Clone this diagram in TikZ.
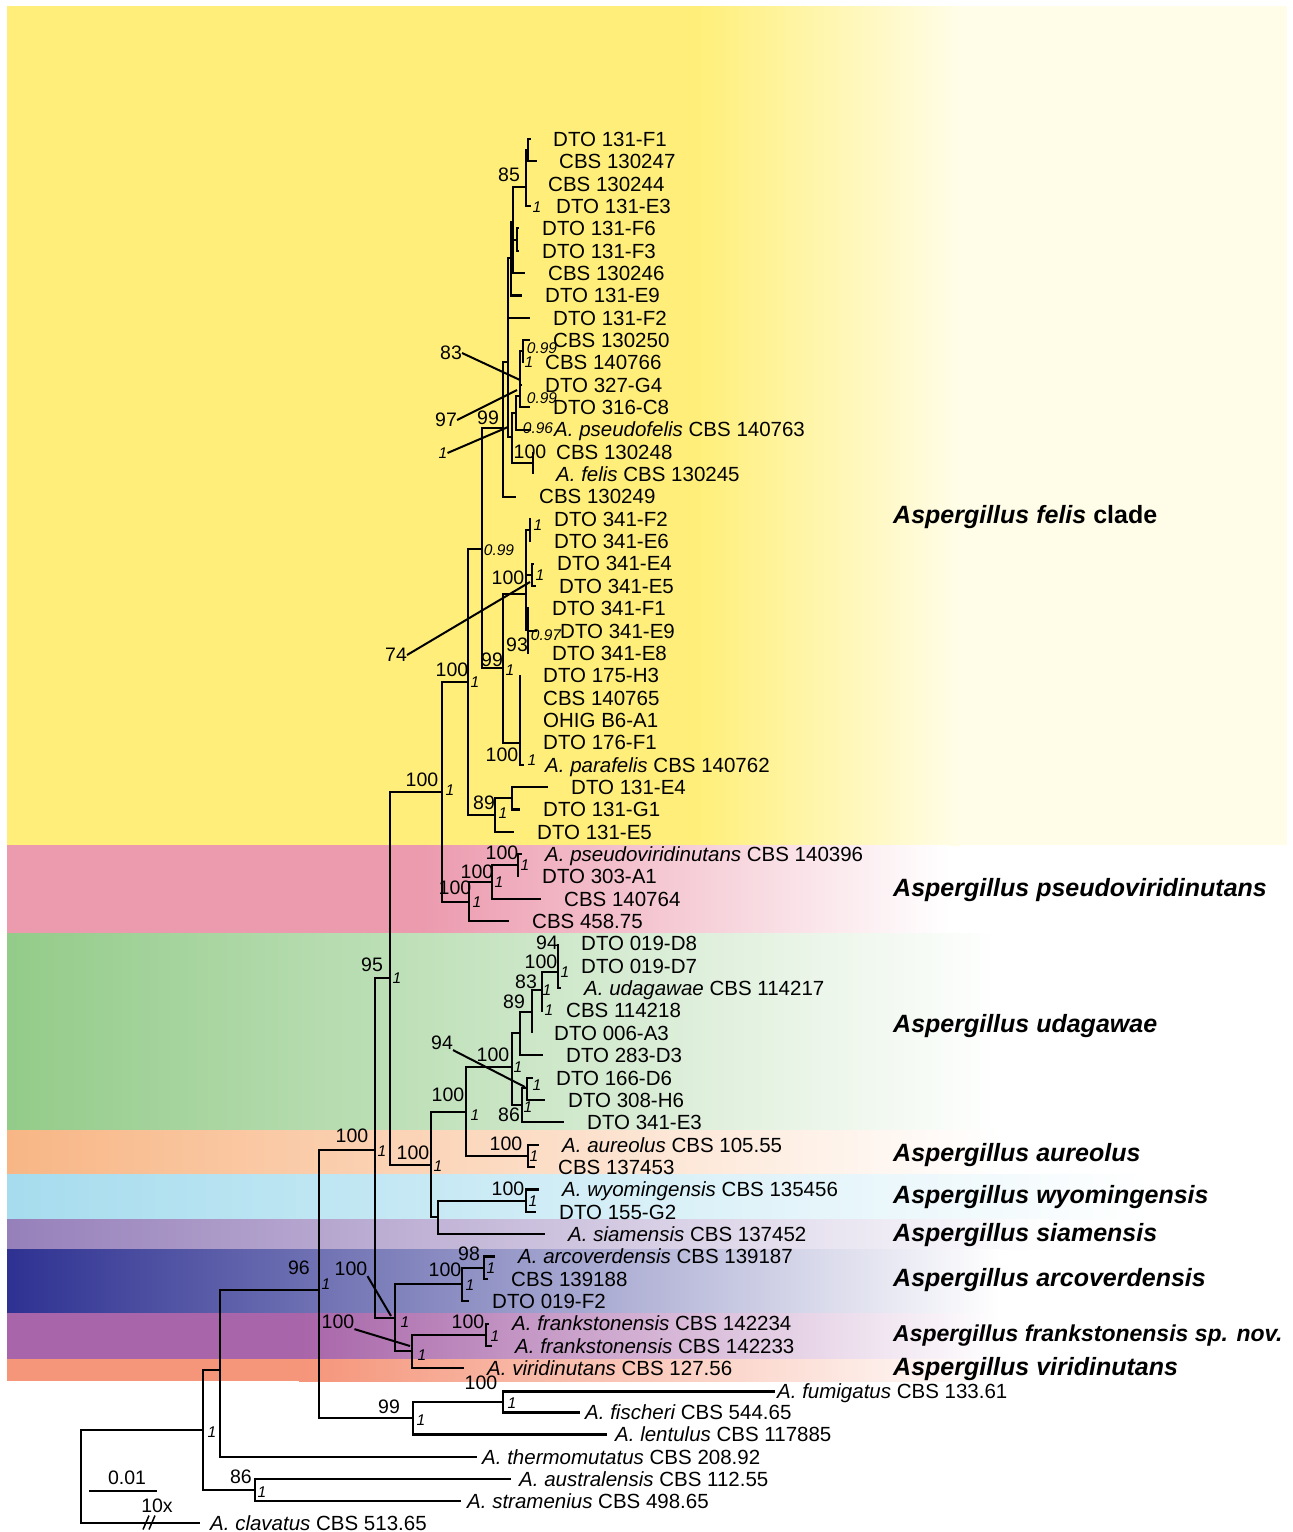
\documentclass[tikz,border=0pt]{standalone}
\usepackage{fontspec}
\setmainfont{Liberation Sans}
\definecolor{cyel}{RGB}{255,239,122}
\definecolor{cyelE}{RGB}{255,253,232}
\definecolor{cpink}{RGB}{236,154,174}
\definecolor{cgreen}{RGB}{147,203,137}
\definecolor{corange}{RGB}{248,182,133}
\definecolor{cblue}{RGB}{166,220,238}
\definecolor{cpurp}{RGB}{150,128,186}
\definecolor{cdblue}{RGB}{46,49,145}
\definecolor{cmag}{RGB}{168,101,169}
\definecolor{csal}{RGB}{245,149,122}
\begin{document}
\begin{tikzpicture}[x=1pt,y=-1pt]
\tikzset{
 br/.style={line width=2.1pt, line join=miter},
 ld/.style={line width=2pt},
 lab/.style={anchor=base west, inner sep=0pt, yshift=-7.3pt, font=\fontsize{20.5}{24}\selectfont},
 bs/.style={inner sep=0pt, font=\fontsize{19.5}{22}\selectfont},
 pp/.style={inner sep=0pt, font=\fontsize{15.5}{18}\selectfont\itshape},
 cladelab/.style={anchor=base west, inner sep=0pt, yshift=-9pt, font=\fontsize{25}{29}\selectfont\bfseries\itshape},
}
\useasboundingbox (0,0) rectangle (1293,1532);
\fill[white] (0,0) rectangle (1293,1532);
% ---------- bands
\fill[cyel] (7,6) rectangle (700,845);
\shade[left color=cyel,right color=cyelE] (699,6) rectangle (960,845);
\fill[cyelE] (959,6) rectangle (1287,845);
\fill[cpink] (7,845) rectangle (420,933);
\shade[left color=cpink,right color=white] (419,845) rectangle (950,933);
\shade[left color=cgreen,right color=white] (7,933) rectangle (1000,1130);
\shade[left color=corange,right color=white] (7,1130) rectangle (1000,1174);
\shade[left color=cblue,right color=white] (7,1174) rectangle (1150,1219);
\shade[left color=cpurp,right color=white] (7,1219) rectangle (1050,1249);
\shade[left color=cdblue,right color=white] (7,1249) rectangle (1000,1313);
\fill[cmag] (7,1313) rectangle (300,1359);
\shade[left color=cmag,right color=white] (299,1313) rectangle (1000,1359);
\fill[csal] (7,1359) rectangle (300,1381);
\shade[left color=csal,right color=white] (299,1359) rectangle (1000,1381);
% ---------- coordinates: tips
\coordinate (F1) at (531,139); \coordinate (C247) at (537,161.35);
\coordinate (C244) at (526,183.7); \coordinate (E3) at (531,206.05);
\coordinate (F6) at (519,228.4); \coordinate (F3) at (519,250.75);
\coordinate (C246) at (525,273.1); \coordinate (E9) at (522,295.45);
\coordinate (F2) at (530,317.8); \coordinate (C250) at (530,340.15);
\coordinate (C766) at (523,362.5); \coordinate (G4) at (522,384.85);
\coordinate (C8) at (530,407.2); \coordinate (PF) at (531,429.55);
\coordinate (C248) at (533,451.9); \coordinate (FEL) at (533,474.25);
\coordinate (C249) at (516,496.6);
\coordinate (D2) at (531,518.95); \coordinate (E6) at (531,541.3);
\coordinate (E4) at (534,563.65); \coordinate (E5) at (536,586);
\coordinate (F1b) at (529,608.35); \coordinate (E9b) at (537,630.7);
\coordinate (E8) at (529,653.05);
\coordinate (H3) at (520,675.4); \coordinate (C765) at (520,697.75);
\coordinate (OHIG) at (520,720.1); \coordinate (F176) at (520,742.45);
\coordinate (PAR) at (524,764.8);
\coordinate (E4b) at (548,787.15); \coordinate (G1) at (520,809.5);
\coordinate (E5b) at (514,831.85);
\coordinate (PV) at (522,854.2); \coordinate (D303) at (518,876.55);
\coordinate (C764) at (541,898.9); \coordinate (C458) at (509,921.25);
\coordinate (D8) at (558,943.6); \coordinate (D7) at (558,965.95);
\coordinate (UDA) at (561,988.3); \coordinate (C218) at (543,1010.65);
\coordinate (D006) at (532,1033); \coordinate (D283) at (543,1055.35);
\coordinate (D166) at (533,1077.7); \coordinate (D308) at (545,1100.05);
\coordinate (D3E3) at (564,1122.4);
\coordinate (AUR) at (539,1144.75); \coordinate (C453) at (535,1167.1);
\coordinate (WY) at (539,1189.45); \coordinate (D155) at (536,1211.8);
\coordinate (SIA) at (545,1234.15);
\coordinate (ARC) at (495,1256.5); \coordinate (C188) at (488,1278.85);
\coordinate (D0F2) at (469,1301.2);
\coordinate (FR1) at (489,1323.55); \coordinate (FR2) at (492,1345.9);
\coordinate (VIR) at (464,1368.25);
\coordinate (FUM) at (775,1391.5); \coordinate (FIS) at (580,1412.5);
\coordinate (LEN) at (607,1434.5); \coordinate (THE) at (477,1457);
\coordinate (AUS) at (511,1479); \coordinate (STR) at (461,1501);
\coordinate (CLA) at (200,1523);
% ---------- coordinates: internal nodes
\coordinate (nF1) at (528,150); \coordinate (n85) at (526,187);
\coordinate (nF6) at (517,240); \coordinate (nA) at (513,222);
\coordinate (nB) at (511,258); \coordinate (nG) at (523,351);
\coordinate (nK) at (520,396); \coordinate (nJ) at (516,413);
\coordinate (n100f) at (533,463); \coordinate (nF) at (512,437);
\coordinate (nTop) at (508,362); \coordinate (n99t) at (503,428);
\coordinate (nFE) at (530,530); \coordinate (nE45) at (532,575);
\coordinate (nFE8) at (528,630); \coordinate (nQ) at (526,594);
\coordinate (nPar) at (520,743); \coordinate (nP) at (503,668);
\coordinate (n482) at (482,549);
\coordinate (n512) at (512,798); \coordinate (n89) at (495,815);
\coordinate (n468) at (468,682);
\coordinate (nPV3) at (518,865); \coordinate (nPV2) at (492,882);
\coordinate (nPV) at (469,902); \coordinate (n442) at (442,792);
\coordinate (nU6) at (558,972); \coordinate (nU5) at (542,990);
\coordinate (nU4) at (532,1012); \coordinate (nU2) at (520,1033);
\coordinate (nU7) at (527,1088); \coordinate (nU3) at (522,1105);
\coordinate (nU) at (512,1067);
\coordinate (nAur) at (528,1156); \coordinate (n466) at (466,1112);
\coordinate (nWy) at (526,1200.6); \coordinate (n438) at (438,1217.4);
\coordinate (n431) at (431,1165); \coordinate (n390) at (390,978);
\coordinate (nArc2) at (484,1268); \coordinate (nArc) at (462,1284);
\coordinate (nFr) at (486,1335); \coordinate (nFrV) at (412,1351);
\coordinate (nArcF) at (395,1318); \coordinate (n375) at (375,1150);
\coordinate (nFu2) at (503,1402); \coordinate (nFu) at (413,1418);
\coordinate (n319) at (319,1290); \coordinate (n220) at (220,1370);
\coordinate (n255) at (255,1490); \coordinate (n203) at (203,1430);
\coordinate (root) at (81,1477);
% ---------- branches
\foreach \p/\c in {nF1/F1,nF1/C247,n85/nF1,n85/C244,n85/E3,nF6/F6,nF6/F3,
 nA/n85,nA/nF6,nA/C246,nB/nA,nB/E9,nG/C250,nG/C766,nK/nG,nK/G4,nK/C8,
 nJ/nK,nJ/PF,n100f/C248,n100f/FEL,nF/nJ,nF/n100f,nTop/nB,nTop/F2,nTop/nF,
 n99t/nTop,n99t/C249,nFE/D2,nFE/E6,nE45/E4,nE45/E5,nFE8/F1b,nFE8/E9b,nFE8/E8,
 nQ/nFE,nQ/nE45,nQ/nFE8,nPar/H3,nPar/C765,nPar/OHIG,nPar/F176,nPar/PAR,
 nP/nQ,nP/nPar,n482/n99t,n482/nP,n512/E4b,n512/G1,n89/n512,n89/E5b,
 n468/n482,n468/n89,nPV3/PV,nPV3/D303,nPV2/nPV3,nPV2/C764,nPV/nPV2,nPV/C458,
 n442/n468,n442/nPV,nU6/D8,nU6/D7,nU6/UDA,nU5/nU6,nU5/C218,nU4/nU5,nU4/D006,
 nU2/nU4,nU2/D283,nU7/D166,nU7/D308,nU3/nU7,nU3/D3E3,nU/nU2,nU/nU3,
 nAur/AUR,nAur/C453,n466/nU,n466/nAur,nWy/WY,nWy/D155,n438/nWy,n438/SIA,
 n431/n466,n431/n438,n390/n442,n390/n431,nArc2/ARC,nArc2/C188,nArc/nArc2,
 nArc/D0F2,nFr/FR1,nFr/FR2,nFrV/nFr,nFrV/VIR,nArcF/nArc,nArcF/nFrV,
 n375/n390,n375/nArcF,nFu2/FUM,nFu2/FIS,nFu/nFu2,nFu/LEN,n319/n375,n319/nFu,
 n220/n319,n220/THE,n255/AUS,n255/STR,n203/n220,n203/n255,root/n203,root/CLA}
 \draw[br] (\p) |- (\c);
% clavatus break
\draw[line width=1.5pt] (143,1529.5) -- (149,1515.5) (149,1529.5) -- (155,1515.5);
% scale bar
\coordinate (sbA) at (89,1491); \coordinate (sbB) at (157,1491);
\draw[br] (sbA) -- (sbB);
\node[bs] (sb1) at (127,1478) {0.01};
\node[bs] (sb2) at (157,1506) {10x};
% ---------- support values
\foreach \t/\x/\y [count=\i] in {85/509/175,83/451/353,97/446/420,99/488/418,100/530/452,
 100/508/578,74/396/655,93/517/645,99/492/660,100/452/670,100/502/755,100/422/780,
 89/484/803,100/502/853,100/477/872,100/455/888,94/547/943,100/541/962,83/526/982,
 89/514/1002,94/442/1043,100/493/1055,100/448/1095,86/509/1115,95/372/965,
 100/352/1136,100/413/1153,100/506/1144,100/508/1189,98/469/1254,100/445/1270,
 100/351/1269,100/468/1322,100/338/1322,96/299/1268,100/481/1383,99/389/1407,86/241/1477}
 \node[bs] (b\i) at (\x,\y) {\t};
\foreach \t/\x/\y [count=\i] in {1/537/207,0.99/542/348,1/529/362,0.99/542/398,1/443/453,
 0.96/538/428,0.99/499/550,1/538/525,1/540/575,0.97/546/635,1/510/670,1/475/682,
 1/532/760,1/450/790,1/503/813,1/525/865,1/499/882,1/477/902,1/565/972,1/547/990,
 1/549/1010,1/518/1067,1/537/1085,1/528/1107,1/475/1115,1/397/978,1/382/1151,
 1/438/1166,1/534/1156,1/533/1201,1/491/1268,1/470/1285,1/405/1322,1/495/1336,
 1/422/1355,1/326/1284,1/512/1403,1/421/1420,1/212/1432,1/262/1492}
 \node[pp] (p\i) at (\x,\y) {\t};
% leader lines
\coordinate (k83) at (520,380); \coordinate (k97) at (517,390);
\coordinate (k1) at (508,427); \coordinate (k74) at (530,582);
\coordinate (k94) at (525,1087); \coordinate (kA) at (391,1316);
\coordinate (kB) at (410,1346);
\draw[ld] (b2.east) -- (k83);
\draw[ld] (b3.east) -- (k97);
\draw[ld] (p5.east) -- (k1);
\draw[ld] (b7.east) -- (k74);
\draw[ld] (b21.south east) -- (k94);
\draw[ld] (b32.south east) -- (kA);
\draw[ld] (b34.south east) -- (kB);
% ---------- tip labels
\node[lab] (l0) at (553,139) {DTO 131-F1};
\node[lab] (l1) at (559,161.35) {CBS 130247};
\node[lab] (l2) at (548,183.7) {CBS 130244};
\node[lab] (l3) at (556,206.05) {DTO 131-E3};
\node[lab] (l4) at (542,228.4) {DTO 131-F6};
\node[lab] (l5) at (542,250.75) {DTO 131-F3};
\node[lab] (l6) at (548,273.1) {CBS 130246};
\node[lab] (l7) at (545,295.45) {DTO 131-E9};
\node[lab] (l8) at (553,317.8) {DTO 131-F2};
\node[lab] (l9) at (553,340.15) {CBS 130250};
\node[lab] (l10) at (545,362.5) {CBS 140766};
\node[lab] (l11) at (545,384.85) {DTO 327-G4};
\node[lab] (l12) at (553,407.2) {DTO 316-C8};
\node[lab] (l13) at (554,429.55) {\itshape A. pseudofelis\upshape{} CBS 140763};
\node[lab] (l14) at (556,451.9) {CBS 130248};
\node[lab] (l15) at (556,474.25) {\itshape A. felis\upshape{} CBS 130245};
\node[lab] (l16) at (539,496.6) {CBS 130249};
\node[lab] (l17) at (554,518.95) {DTO 341-F2};
\node[lab] (l18) at (554,541.3) {DTO 341-E6};
\node[lab] (l19) at (557,563.65) {DTO 341-E4};
\node[lab] (l20) at (559,586) {DTO 341-E5};
\node[lab] (l21) at (552,608.35) {DTO 341-F1};
\node[lab] (l22) at (560,630.7) {DTO 341-E9};
\node[lab] (l23) at (552,653.05) {DTO 341-E8};
\node[lab] (l24) at (543,675.4) {DTO 175-H3};
\node[lab] (l25) at (543,697.75) {CBS 140765};
\node[lab] (l26) at (543,720.1) {OHIG B6-A1};
\node[lab] (l27) at (543,742.45) {DTO 176-F1};
\node[lab] (l28) at (545,764.8) {\itshape A. parafelis\upshape{} CBS 140762};
\node[lab] (l29) at (571,787.15) {DTO 131-E4};
\node[lab] (l30) at (543,809.5) {DTO 131-G1};
\node[lab] (l31) at (537,831.85) {DTO 131-E5};
\node[lab] (l32) at (545,854.2) {\itshape A. pseudoviridinutans\upshape{} CBS 140396};
\node[lab] (l33) at (542,876.55) {DTO 303-A1};
\node[lab] (l34) at (564,898.9) {CBS 140764};
\node[lab] (l35) at (532,921.25) {CBS 458.75};
\node[lab] (l36) at (581,943.6) {DTO 019-D8};
\node[lab] (l37) at (581,965.95) {DTO 019-D7};
\node[lab] (l38) at (584,988.3) {\itshape A. udagawae\upshape{} CBS 114217};
\node[lab] (l39) at (566,1010.65) {CBS 114218};
\node[lab] (l40) at (554,1033) {DTO 006-A3};
\node[lab] (l41) at (566,1055.35) {DTO 283-D3};
\node[lab] (l42) at (556,1077.7) {DTO 166-D6};
\node[lab] (l43) at (568,1100.05) {DTO 308-H6};
\node[lab] (l44) at (587,1122.4) {DTO 341-E3};
\node[lab] (l45) at (562,1144.75) {\itshape A. aureolus\upshape{} CBS 105.55};
\node[lab] (l46) at (558,1167.1) {CBS 137453};
\node[lab] (l47) at (562,1189.45) {\itshape A. wyomingensis\upshape{} CBS 135456};
\node[lab] (l48) at (559,1211.8) {DTO 155-G2};
\node[lab] (l49) at (568,1234.15) {\itshape A. siamensis\upshape{} CBS 137452};
\node[lab] (l50) at (518,1256.5) {\itshape A. arcoverdensis\upshape{} CBS 139187};
\node[lab] (l51) at (511,1278.85) {CBS 139188};
\node[lab] (l52) at (492,1301.2) {DTO 019-F2};
\node[lab] (l53) at (512,1323.55) {\itshape A. frankstonensis\upshape{} CBS 142234};
\node[lab] (l54) at (515,1345.9) {\itshape A. frankstonensis\upshape{} CBS 142233};
\node[lab] (l55) at (487,1368.25) {\itshape A. viridinutans\upshape{} CBS 127.56};
\node[lab] (l56) at (777,1391.5) {\itshape A. fumigatus\upshape{} CBS 133.61};
\node[lab] (l57) at (585,1412.5) {\itshape A. fischeri\upshape{} CBS 544.65};
\node[lab] (l58) at (615,1434.5) {\itshape A. lentulus\upshape{} CBS 117885};
\node[lab] (l59) at (482,1457) {\itshape A. thermomutatus\upshape{} CBS 208.92};
\node[lab] (l60) at (519,1479) {\itshape A. australensis\upshape{} CBS 112.55};
\node[lab] (l61) at (467,1501) {\itshape A. stramenius\upshape{} CBS 498.65};
\node[lab] (l62) at (210,1523) {\itshape A. clavatus\upshape{} CBS 513.65};
% ---------- clade labels
\node[cladelab] (c1) at (893,514) {Aspergillus felis \upshape clade};
\node[cladelab] (c2) at (893,887) {Aspergillus pseudoviridinutans};
\node[cladelab] (c3) at (893,1023) {Aspergillus udagawae};
\node[cladelab] (c4) at (893,1152) {Aspergillus aureolus};
\node[cladelab] (c5) at (893,1194) {Aspergillus wyomingensis};
\node[cladelab] (c6) at (893,1232) {Aspergillus siamensis};
\node[cladelab] (c7) at (893,1277) {Aspergillus arcoverdensis};
\node[cladelab, font=\fontsize{23}{27}\selectfont\bfseries\itshape, yshift=-0.3pt] (c8) at (893,1332) {Aspergillus frankstonensis sp. nov.};
\node[cladelab] (c9) at (893,1366) {Aspergillus viridinutans};
\end{tikzpicture}
\end{document}
